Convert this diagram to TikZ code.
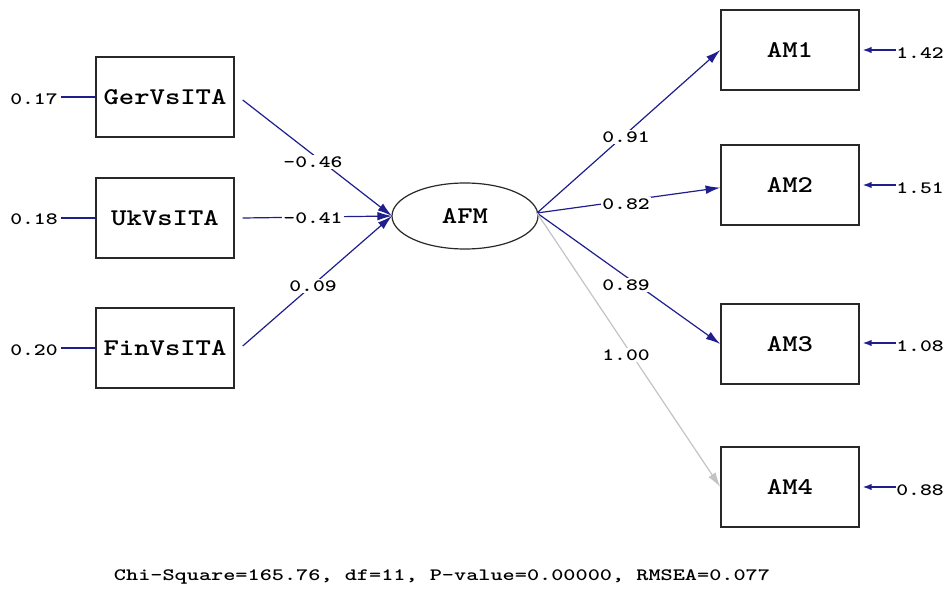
\documentclass[tikz,border=0pt]{standalone}
\usetikzlibrary{arrows.meta,shapes.geometric}
\definecolor{pathblue}{RGB}{30,30,140}
\definecolor{fixgray}{RGB}{195,195,195}
\definecolor{boxline}{RGB}{40,40,40}
\newcommand{\widetxt}[1]{\scalebox{1.22}[1]{#1}}
\newcommand{\numtxt}[1]{\scalebox{1.3}[1]{#1}}
\tikzset{
  varbox/.style={draw=boxline,line width=1.1pt,minimum width=103.5pt,minimum height=60pt,inner sep=0pt,
    font=\fontsize{18}{18}\selectfont\ttfamily\bfseries},
  latentvar/.style={ellipse,draw=boxline,line width=0.9pt,minimum width=109.5pt,minimum height=49.5pt,inner sep=0pt,
    font=\fontsize{18}{18}\selectfont\ttfamily\bfseries},
  coef/.style={fill=white,inner sep=1pt,font=\fontsize{13}{13}\selectfont\ttfamily\bfseries},
  errlab/.style={inner sep=0pt,font=\fontsize{13}{13}\selectfont\ttfamily\bfseries},
  path/.style={draw=pathblue,line width=0.9pt,-{Latex[length=11pt,width=6.5pt]}},
  fixedpath/.style={draw=fixgray,line width=0.9pt,-{Latex[length=11pt,width=6.5pt]}},
  errline/.style={draw=pathblue,line width=0.9pt},
  errarrow/.style={draw=pathblue,line width=1.6pt,-{Latex[length=7pt,width=5pt]}},
}
\begin{document}
\begin{tikzpicture}[x=0.75pt,y=-0.75pt]
\useasboundingbox (0,0) rectangle (947,606);

% observed predictors
\node[varbox] (ger) at (165,97) {\widetxt{GerVsITA}};
\node[varbox] (uk)  at (165,218) {\widetxt{UkVsITA}};
\node[varbox] (fin) at (165,348) {\widetxt{FinVsITA}};

% latent factor
\node[latentvar] (afm) at (465,216) {\widetxt{AFM}};

% indicators
\node[varbox] (am1) at (790,50)  {\widetxt{AM1}};
\node[varbox] (am2) at (790,185) {\widetxt{AM2}};
\node[varbox] (am3) at (790,344) {\widetxt{AM3}};
\node[varbox] (am4) at (790,487) {\widetxt{AM4}};

% error variances of the predictors
\node[errlab] (eger) at (34,99)  {\numtxt{0.17}};
\node[errlab] (euk)  at (34,219) {\numtxt{0.18}};
\node[errlab] (efin) at (34,350) {\numtxt{0.20}};
\coordinate (g0) at (61,97);
\coordinate (u0) at (61,218);
\coordinate (f0) at (61,348);
\draw[errline] (g0) -- (ger.west |- g0);
\draw[errline] (u0) -- (uk.west |- u0);
\draw[errline] (f0) -- (fin.west |- f0);

% error variances of the indicators
\node[errlab] (e1) at (920,53)  {\numtxt{1.42}};
\node[errlab] (e2) at (920,188) {\numtxt{1.51}};
\node[errlab] (e3) at (920,346) {\numtxt{1.08}};
\node[errlab] (e4) at (920,490) {\numtxt{0.88}};
\coordinate (s1) at (896,50);
\coordinate (s2) at (896,185);
\coordinate (s3) at (896,343);
\coordinate (s4) at (896,487);
\draw[errarrow] (s1) -- ([xshift=2]am1.east |- s1);
\draw[errarrow] (s2) -- ([xshift=2]am2.east |- s2);
\draw[errarrow] (s3) -- ([xshift=2]am3.east |- s3);
\draw[errarrow] (s4) -- ([xshift=2]am4.east |- s4);

% structural paths
\coordinate (afmin) at (392,216);
\coordinate (afmout) at (537,213);
\draw[path] ([xshift=6]ger.east |- 0,100) -- (afmin);
\draw[path] ([xshift=6]uk.east) -- (afmin);
\draw[path] ([xshift=6]fin.east |- 0,346) -- (afmin);
\node[coef] (c1) at (313,162) {\numtxt{-0.46}};
\node[coef] (c2) at (313,218) {\numtxt{-0.41}};
\node[coef] (c3) at (313,286) {\numtxt{0.09}};

% measurement paths
\draw[path] (afmout) -- (am1.west);
\draw[path] (afmout) -- ([yshift=-2]am2.west);
\draw[path] (afmout) -- (am3.west);
\draw[fixedpath] (afmout) -- (am4.west);
\node[coef] (l1) at (626,137) {\numtxt{0.91}};
\node[coef] (l2) at (626,204) {\numtxt{0.82}};
\node[coef] (l3) at (626,285) {\numtxt{0.89}};
\node[coef] (l4) at (626,355) {\numtxt{1.00}};

% fit statistics
\node[errlab] (fit) at (442,577)
  {\scalebox{1.335}[1]{Chi-Square=165.76, df=11, P-value=0.00000, RMSEA=0.077}};
\end{tikzpicture}
\end{document}
